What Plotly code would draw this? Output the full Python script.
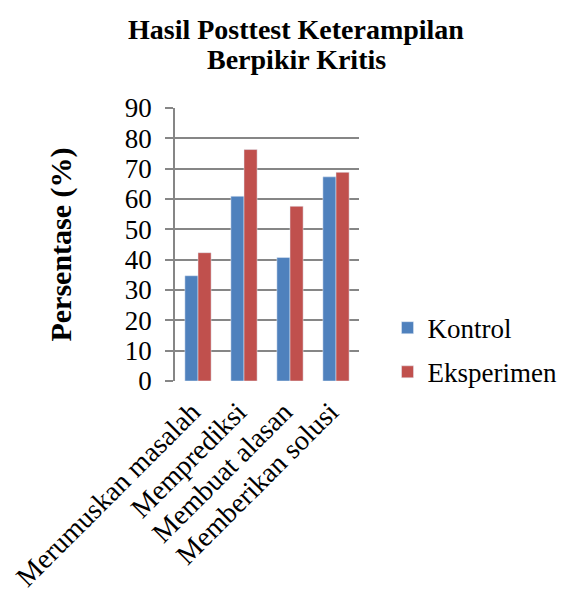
import plotly.graph_objects as go

categories = ["Merumuskan masalah", "Memprediksi", "Membuat alasan", "Memberikan solusi"]
kontrol = [34.7, 60.9, 40.7, 67.3]
eksperimen = [42.3, 76.3, 57.6, 68.8]
y_ticks = [0, 10, 20, 30, 40, 50, 60, 70, 80, 90]
title_lines = ["Hasil Posttest Keterampilan", "Berpikir Kritis"]

FONT = "Liberation Serif, Times New Roman, serif"

fig = go.Figure()
fig.add_trace(go.Bar(name="Kontrol", x=categories, y=kontrol, marker_color="#4F81BD", legendgroup="a"))
fig.add_trace(go.Bar(name="Eksperimen", x=categories, y=eksperimen, marker_color="#C0504D", legendgroup="b"))

for text, yp in zip(title_lines, [1.289, 1.179]):
    fig.add_annotation(text=f"<b>{text}</b>", xref="paper", yref="paper", x=0.658, y=yp,
                       xanchor="center", yanchor="middle", showarrow=False,
                       font=dict(family=FONT, size=28, color="black"))

fig.update_layout(
    width=566, height=599,
    paper_bgcolor="white", plot_bgcolor="white",
    barmode="group", bargap=0.43, bargroupgap=0,
    margin=dict(l=167, r=212, t=100, b=226),
    font=dict(family=FONT, color="black", size=27),
    legend=dict(x=1.155, y=0.113, xanchor="left", yanchor="middle",
                font=dict(family=FONT, size=27, color="black"),
                itemwidth=30, traceorder="grouped", tracegroupgap=6, bgcolor="rgba(0,0,0,0)"),
    showlegend=True,
)
fig.update_yaxes(range=[0, 90], tickvals=y_ticks, showgrid=True, gridcolor="#868686", gridwidth=1.5,
                 showline=True, linecolor="#868686", linewidth=1.5,
                 ticks="outside", ticklen=8, tickcolor="#868686", tickwidth=1.5,
                 ticklabelstandoff=8, automargin=False,
                 tickfont=dict(family=FONT, size=27, color="black"),
                 title=dict(text="<b>Persentase (%)</b>", font=dict(family=FONT, size=30, color="black"), standoff=44),
                 zeroline=False)
fig.update_xaxes(tickangle=-45, tickfont=dict(family=FONT, size=28, color="black"),
                 showline=False, ticks="", automargin=False,
                 ticklabelstandoff=8, ticklabelshift=-6)

fig.write_html("out.html")
